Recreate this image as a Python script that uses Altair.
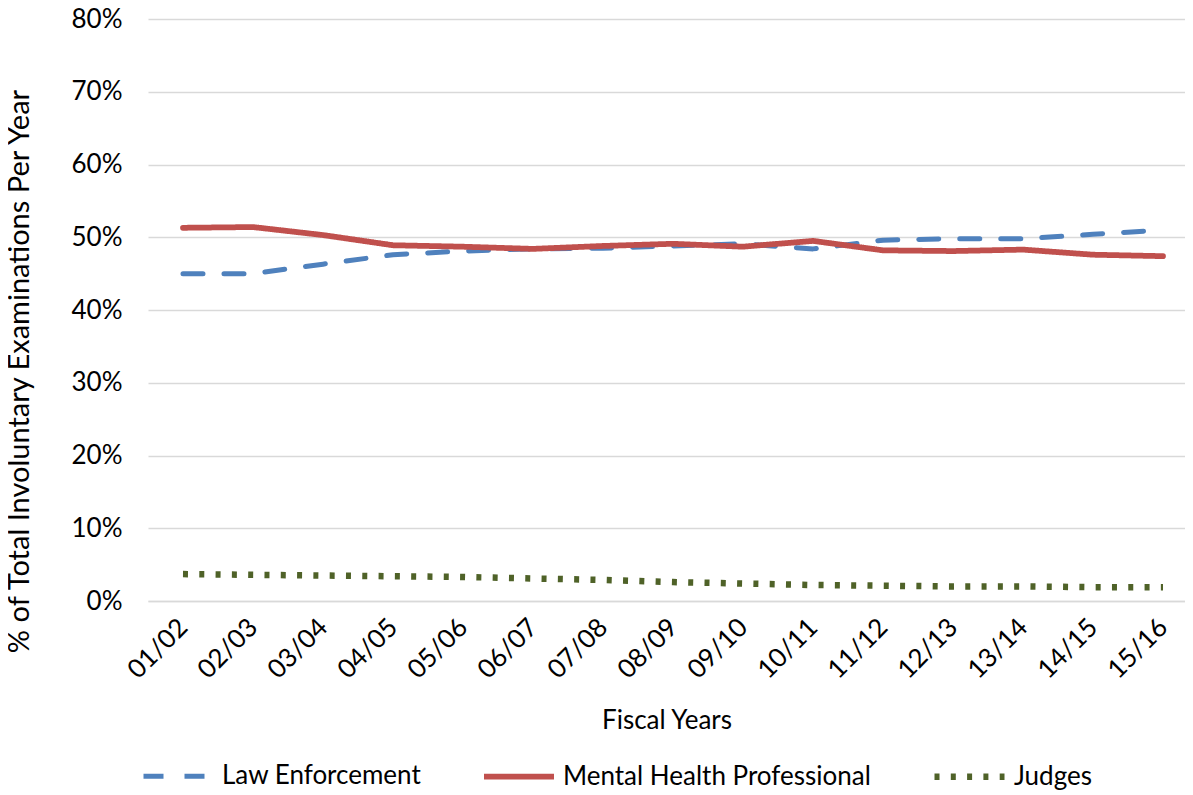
import altair as alt
import pandas as pd

years = ["01/02", "02/03", "03/04", "04/05", "05/06", "06/07", "07/08", "08/09",
         "09/10", "10/11", "11/12", "12/13", "13/14", "14/15", "15/16"]
series_names = ["Law Enforcement", "Mental Health Professional", "Judges"]
law = [45.0, 45.0, 46.3, 47.6, 48.1, 48.4, 48.5, 48.8, 49.1, 48.4, 49.6, 49.8, 49.8, 50.4, 51.0]
mental = [51.3, 51.4, 50.3, 48.9, 48.7, 48.4, 48.8, 49.1, 48.7, 49.5, 48.2, 48.1, 48.3, 47.6, 47.4]
judges = [3.7, 3.6, 3.5, 3.4, 3.3, 3.1, 2.9, 2.6, 2.4, 2.2, 2.1, 2.0, 2.0, 1.9, 1.9]
y_ticks = [0, 10, 20, 30, 40, 50, 60, 70, 80]

rows = []
for name, vals in zip(series_names, [law, mental, judges]):
    for i, (yr, v) in enumerate(zip(years, vals)):
        rows.append({"Series": name, "Year": yr, "Value": v, "order": i})
df = pd.DataFrame(rows)

FONT = "Lato"
FS = 26
colors = ["#4F81BD", "#C0504D", "#4F6228"]
dashes = [[20, 21], [1, 0], [5, 11.3]]
widths = [5, 6.5, 7]

base = alt.Chart(df).encode(
    x=alt.X("Year:N", sort=years,
            scale=alt.Scale(type="point", padding=0.407, align=0.614),
            axis=alt.Axis(title="Fiscal Years", labelAngle=315, labelAlign="right",
                          labelBaseline="middle", labelPadding=22, ticks=False,
                          domain=True, domainColor="#D9D9D9", domainWidth=1.3,
                          labelFontSize=FS, titleFontSize=FS, titleFontWeight="normal",
                          labelColor="#000000", titleColor="#000000",
                          titleY=119, titleBaseline="middle", grid=False)),
    y=alt.Y("Value:Q",
            scale=alt.Scale(domain=[0, 80], nice=False),
            axis=alt.Axis(title="% of Total Involuntary Examinations Per Year",
                          values=y_ticks, labelExpr="datum.value + '%'",
                          ticks=False, domain=False, grid=True, gridColor="#D9D9D9",
                          gridWidth=1.3, labelPadding=26, labelFontSize=FS,
                          titleFontSize=29, titleFontWeight="normal",
                          labelColor="#000000", titleColor="#000000",
                          titleX=-114, titleY=352, titleBaseline="bottom")),
    color=alt.Color("Series:N", sort=series_names,
                    scale=alt.Scale(domain=series_names, range=colors), title=None),
    strokeDash=alt.StrokeDash("Series:N", sort=series_names,
                              scale=alt.Scale(domain=series_names, range=dashes), title=None),
    strokeWidth=alt.StrokeWidth("Series:N", sort=series_names,
                                scale=alt.Scale(domain=series_names, range=widths), title=None),
    order="order:Q",
)

main_lines = base.transform_filter(
    alt.FieldOneOfPredicate(field="Series", oneOf=series_names[:2])
).mark_line(strokeCap="round", strokeJoin="round")
judge_line = base.transform_filter(
    alt.FieldEqualPredicate(field="Series", equal=series_names[2])
).mark_line(strokeCap="butt", strokeJoin="round")

chart = alt.layer(main_lines, judge_line).properties(
    width=1037, height=582,
    autosize=alt.AutoSizeParams(type="none"),
    padding={"left": 140, "top": 11, "right": 0, "bottom": 192},
).configure(font=FONT).configure_view(stroke=None).configure_legend(
    orient="none", legendX=-7, legendY=719, direction="horizontal",
    symbolType="stroke", symbolSize=4900, labelFontSize=FS, labelColor="#000000",
    columnPadding=50, labelOffset=6, labelFont=FONT, labelLimit=0,
).configure_axis(labelFont=FONT, titleFont=FONT)

chart.save("out.html", embed_options={"renderer": "svg", "actions": False})
